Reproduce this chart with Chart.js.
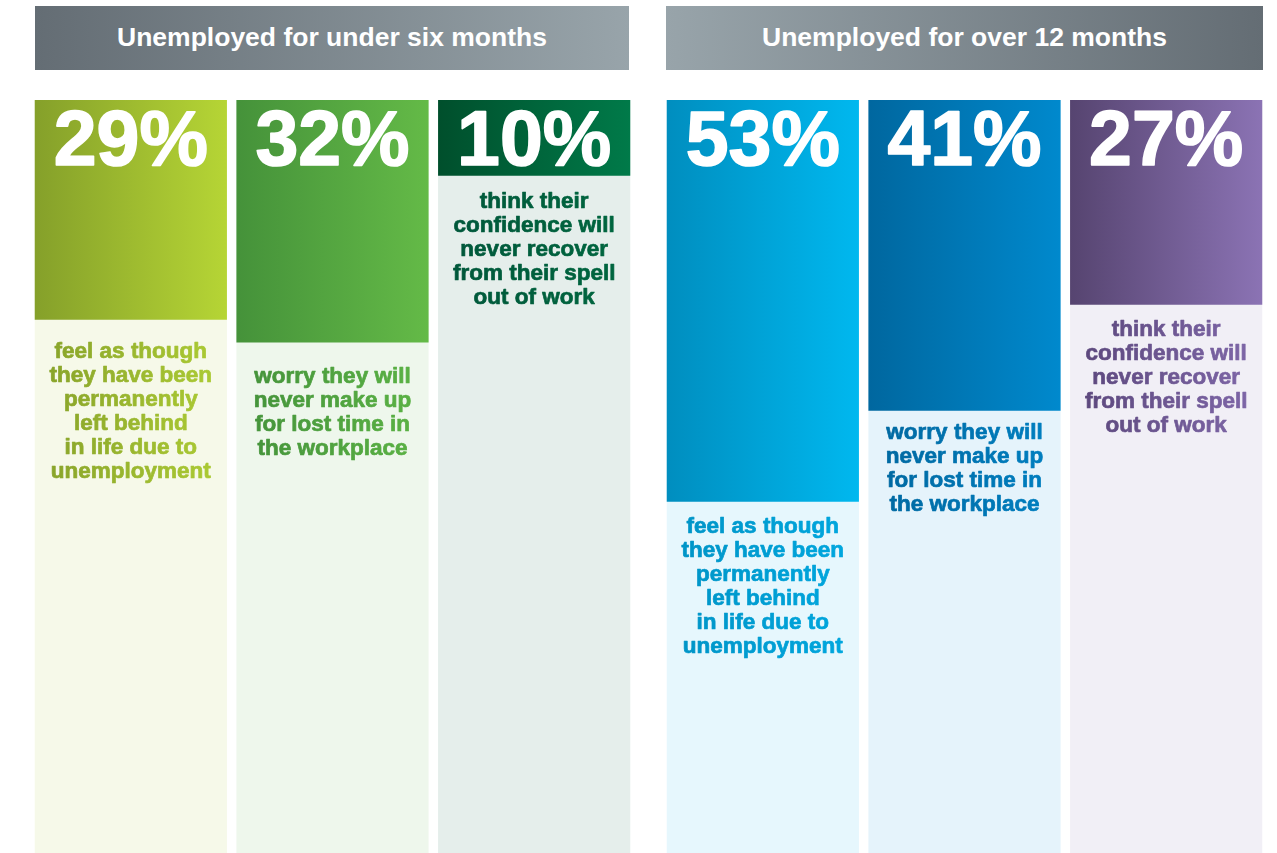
<!DOCTYPE html>
<html>
<head>
<meta charset="utf-8">
<script src="https://cdn.jsdelivr.net/npm/chart.js@4"></script>
<style>
  html, body { margin:0; padding:0; background:#ffffff; width:1277px; height:853px; overflow:hidden; }
  .hdr { position:absolute; top:6px; height:64px; color:#fff; font:bold 26.5px "Liberation Sans", Arial, sans-serif;
         display:flex; align-items:center; justify-content:center; padding-bottom:2px; box-sizing:border-box; }
  #h1 { left:35px; width:594px; background:linear-gradient(to right,#646d74,#98a4aa); }
  #h2 { left:666px; width:597px; background:linear-gradient(to right,#98a4aa,#646d74); }
  .wrap { position:absolute; top:100px; height:758px; }
  #w1 { left:30px; width:605px; }
  #w2 { left:662px; width:605px; }
</style>
</head>
<body>
<div class="hdr" id="h1">Unemployed for under six months</div>
<div class="hdr" id="h2">Unemployed for over 12 months</div>
<div class="wrap" id="w1"><canvas id="c1"></canvas></div>
<div class="wrap" id="w2"><canvas id="c2"></canvas></div>
<script>
// ---- data ----
const groupTitles = ["Unemployed for under six months", "Unemployed for over 12 months"];
const categoriesShort = ["Left behind", "Lost time", "Confidence"];
const categoriesLong = ["Left behind", "Lost time", "Confidence"];
const valuesShort = [29, 32, 10];
const valuesLong = [53, 41, 27];
const descShort = [
  ["feel as though", "they have been", "permanently", "left behind", "in life due to", "unemployment"],
  ["worry they will", "never make up", "for lost time in", "the workplace"],
  ["think their", "confidence will", "never recover", "from their spell", "out of work"]
];
const descLong = [
  ["feel as though", "they have been", "permanently", "left behind", "in life due to", "unemployment"],
  ["worry they will", "never make up", "for lost time in", "the workplace"],
  ["think their", "confidence will", "never recover", "from their spell", "out of work"]
];
const fullScale = [100, 100, 100];

// ---- styles ----
const barColorsShort = [["#85a02a", "#b6d535"], ["#45923a", "#64ba47"], ["#004f2c", "#007a49"]];
const barColorsLong = [["#008ebf", "#00b8ef"], ["#00679f", "#0089cd"], ["#564470", "#8b73b4"]];
const bgColorsShort = [["#f0f3e5", "#f6f9e9"], ["#ebf3ea", "#eef7ec"], ["#e3ede9", "#e5eeeb"]];
const bgColorsLong = [["#e2f1f7", "#e6f7fd"], ["#e7edf5", "#e5f3fb"], ["#ecebf0", "#f1eff6"]];
const textColorsShort = [["#86a12a", "#aecd34"], ["#43913a", "#5cb445"], ["#00563a", "#00673f"]];
const textColorsLong = [["#0093c5", "#00a8e0"], ["#00679f", "#0080c2"], ["#5a467a", "#8068aa"]];
const textGapShort = [31, 33, 25];
const textGapLong = [24, 21, 24];

function grad(chart, i, pair) {
  const meta = chart.getDatasetMeta(0);
  const el = meta && meta.data[i];
  if (!chart.chartArea || !el || !el.width) return pair[1];
  const g = chart.ctx.createLinearGradient(el.x - el.width / 2, 0, el.x + el.width / 2, 0);
  g.addColorStop(0, pair[0]);
  g.addColorStop(1, pair[1]);
  return g;
}

const labelPlugin = {
  id: 'barLabels',
  afterDatasetsDraw(chart, args, opts) {
    const ctx = chart.ctx;
    const meta = chart.getDatasetMeta(1);
    meta.data.forEach((el, i) => {
      const v = opts.values[i];
      const top = Math.min(el.y, el.base);
      const bottom = Math.max(el.y, el.base);
      ctx.save();
      ctx.textAlign = 'center';
      ctx.textBaseline = 'alphabetic';
      ctx.fillStyle = '#ffffff';
      ctx.strokeStyle = '#ffffff';
      ctx.lineWidth = 1.6;
      ctx.lineJoin = 'round';
      ctx.font = 'bold 77px "Liberation Sans", Arial, sans-serif';
      ctx.fillText(v + '%', el.x, top + 65);
      ctx.strokeText(v + '%', el.x, top + 65);
      const g = ctx.createLinearGradient(el.x - el.width / 2, 0, el.x + el.width / 2, 0);
      g.addColorStop(0, opts.textColors[i][0]);
      g.addColorStop(1, opts.textColors[i][1]);
      ctx.fillStyle = g;
      ctx.strokeStyle = g;
      ctx.lineWidth = 0.7;
      ctx.font = 'bold 22.5px "Liberation Sans", Arial, sans-serif';
      ctx.textBaseline = 'middle';
      opts.desc[i].forEach((line, k) => {
        const y = bottom + opts.gaps[i] + 1 + k * 24;
        ctx.fillText(line, el.x, y);
        ctx.strokeText(line, el.x, y);
      });
      ctx.restore();
    });
  }
};

function makeChart(id, cats, vals, desc, barCols, bgCols, txtCols, gaps) {
  return new Chart(document.getElementById(id), {
    type: 'bar',
    data: {
      labels: cats,
      datasets: [
        { data: fullScale, order: 2, grouped: false, borderWidth: 0,
          backgroundColor: (c) => grad(c.chart, c.dataIndex, bgCols[c.dataIndex]) },
        { data: vals, order: 1, grouped: false, borderWidth: 0,
          backgroundColor: (c) => grad(c.chart, c.dataIndex, barCols[c.dataIndex]) }
      ]
    },
    options: {
      responsive: true,
      maintainAspectRatio: false,
      animation: false,
      layout: { padding: 0 },
      datasets: { bar: { categoryPercentage: 1, barPercentage: 0.953 } },
      scales: {
        x: { display: false },
        y: { display: false, reverse: true, min: 0, max: 100 }
      },
      plugins: {
        legend: { display: false },
        tooltip: { enabled: false },
        title: { display: false },
        barLabels: { values: vals, desc: desc, textColors: txtCols, gaps: gaps }
      }
    },
    plugins: [labelPlugin]
  });
}

makeChart('c1', categoriesShort, valuesShort, descShort, barColorsShort, bgColorsShort, textColorsShort, textGapShort);
makeChart('c2', categoriesLong, valuesLong, descLong, barColorsLong, bgColorsLong, textColorsLong, textGapLong);
</script>
</body>
</html>
